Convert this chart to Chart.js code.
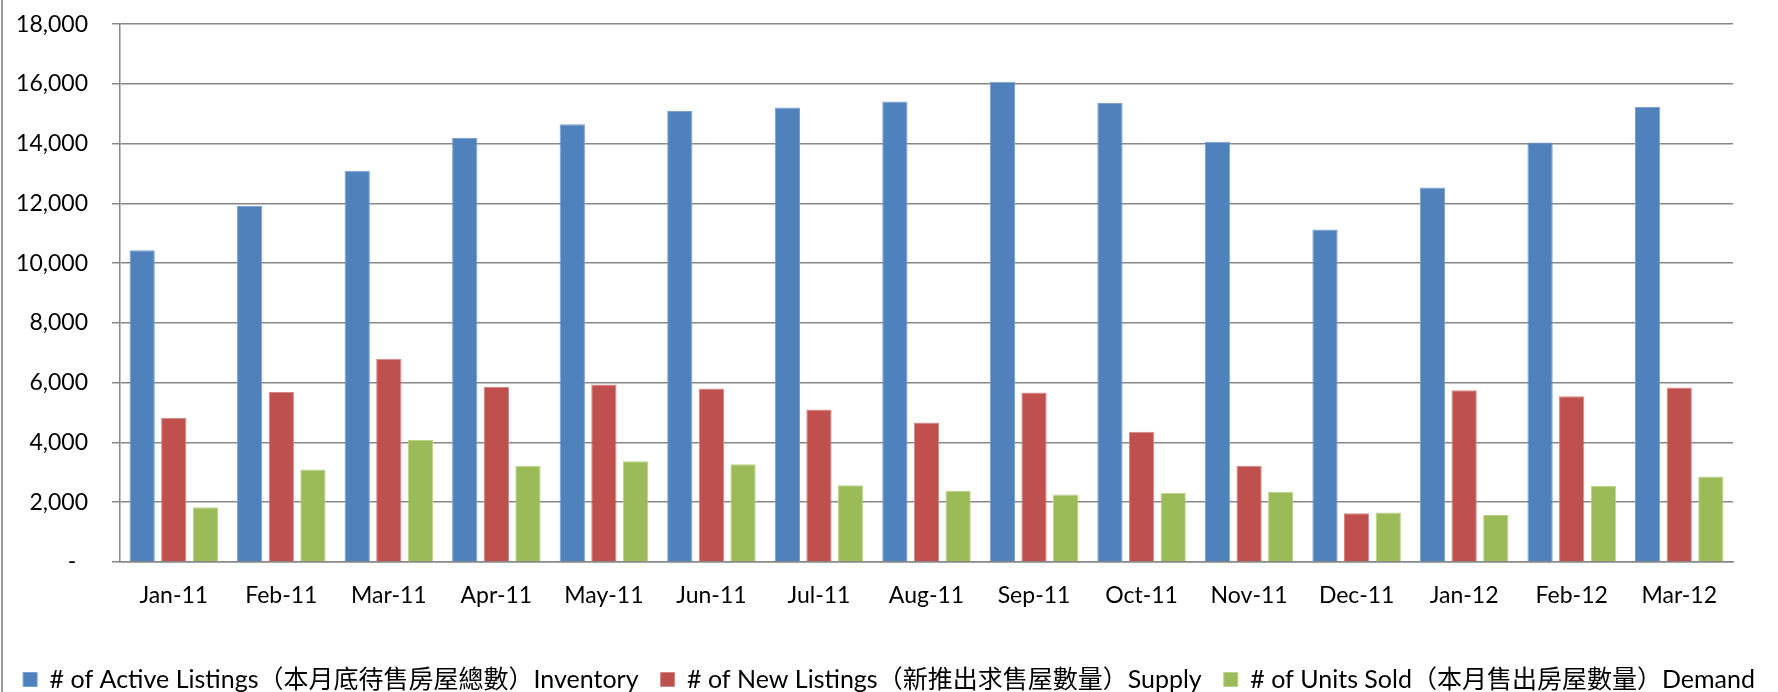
<!DOCTYPE html>
<html>
<head>
<meta charset="utf-8">
<script src="https://cdn.jsdelivr.net/npm/chart.js@4/dist/chart.umd.min.js"></script>
<style>
  html, body { margin: 0; padding: 0; background: #fff; }
  #wrap { position: relative; width: 1778px; height: 692px; }
  #edge { position: absolute; left: 1px; top: 0; width: 2px; height: 692px; background: #9a9a9a; }
  canvas { display: block; }
</style>
</head>
<body>
<div id="wrap">
  <canvas id="c" width="1778" height="692"></canvas>
  <div id="edge"></div>
</div>
<script>
const categories = ['Jan-11','Feb-11','Mar-11','Apr-11','May-11','Jun-11','Jul-11','Aug-11','Sep-11','Oct-11','Nov-11','Dec-11','Jan-12','Feb-12','Mar-12'];
const inventory = [10430, 11910, 13090, 14190, 14650, 15090, 15210, 15410, 16070, 15360, 14060, 11130, 12530, 14040, 15230];
const supply    = [4815, 5690, 6800, 5855, 5940, 5805, 5100, 4670, 5675, 4360, 3225, 1635, 5745, 5545, 5840];
const demand    = [1830, 3095, 4085, 3225, 3370, 3275, 2570, 2380, 2260, 2320, 2355, 1660, 1575, 2555, 2865];
const seriesNames = [
  '# of Active Listings（本月底待售房屋總數）Inventory',
  '# of New Listings（新推出求售屋數量）Supply',
  '# of Units Sold（本月售出房屋數量）Demand'
];
const yMin = 0, yMax = 18000, yStep = 2000;

const FONT = "Lato, 'Noto Sans CJK TC', sans-serif";

new Chart(document.getElementById('c'), {
  type: 'bar',
  data: {
    labels: categories,
    datasets: [
      { label: seriesNames[0], data: inventory, backgroundColor: '#4F81BD', borderColor: '#7A9FD0', borderWidth: 1 },
      { label: seriesNames[1], data: supply,    backgroundColor: '#C0504D', borderColor: '#D48886', borderWidth: 1 },
      { label: seriesNames[2], data: demand,    backgroundColor: '#9BBB59', borderColor: '#BCD38C', borderWidth: 1 }
    ]
  },
  options: {
    responsive: false,
    animation: false,
    devicePixelRatio: 1,
    categoryPercentage: 0.882,
    barPercentage: 0.80,
    layout: { padding: { left: 0, right: 0, top: 0, bottom: -10 } },
    plugins: {
      legend: {
        position: 'bottom',
        labels: {
          font: { family: FONT, size: 25 },
          color: '#000',
          boxWidth: 14,
          boxHeight: 14,
          padding: 22
        }
      },
      tooltip: { enabled: false }
    },
    scales: {
      x: {
        grid: { display: false, drawTicks: false },
        border: { display: true, color: '#888', width: 1.5 },
        ticks: { font: { family: FONT, size: 23 }, color: '#000', padding: 20, maxRotation: 0, autoSkip: false },
        afterFit: (s) => { s.height = 83; }
      },
      y: {
        min: yMin, max: yMax,
        grid: { color: '#888', lineWidth: 1.5, tickLength: 8, drawTicks: true },
        border: { display: true, color: '#888', width: 1.5 },
        ticks: {
          stepSize: yStep,
          font: { family: FONT, size: 23, lineHeight: 0.01 },
          color: '#000',
          padding: 24,
          callback: (v) => v === 0 ? '-  ' : v.toLocaleString('en-US')
        },
        afterFit: (s) => { s.width = 120; }
      },
      yRight: {
        position: 'right',
        min: yMin, max: yMax,
        grid: { display: false, drawOnChartArea: false, drawTicks: false },
        border: { display: false },
        ticks: { display: false },
        afterFit: (s) => { s.width = 45; }
      }
    }
  }
});
</script>
</body>
</html>
